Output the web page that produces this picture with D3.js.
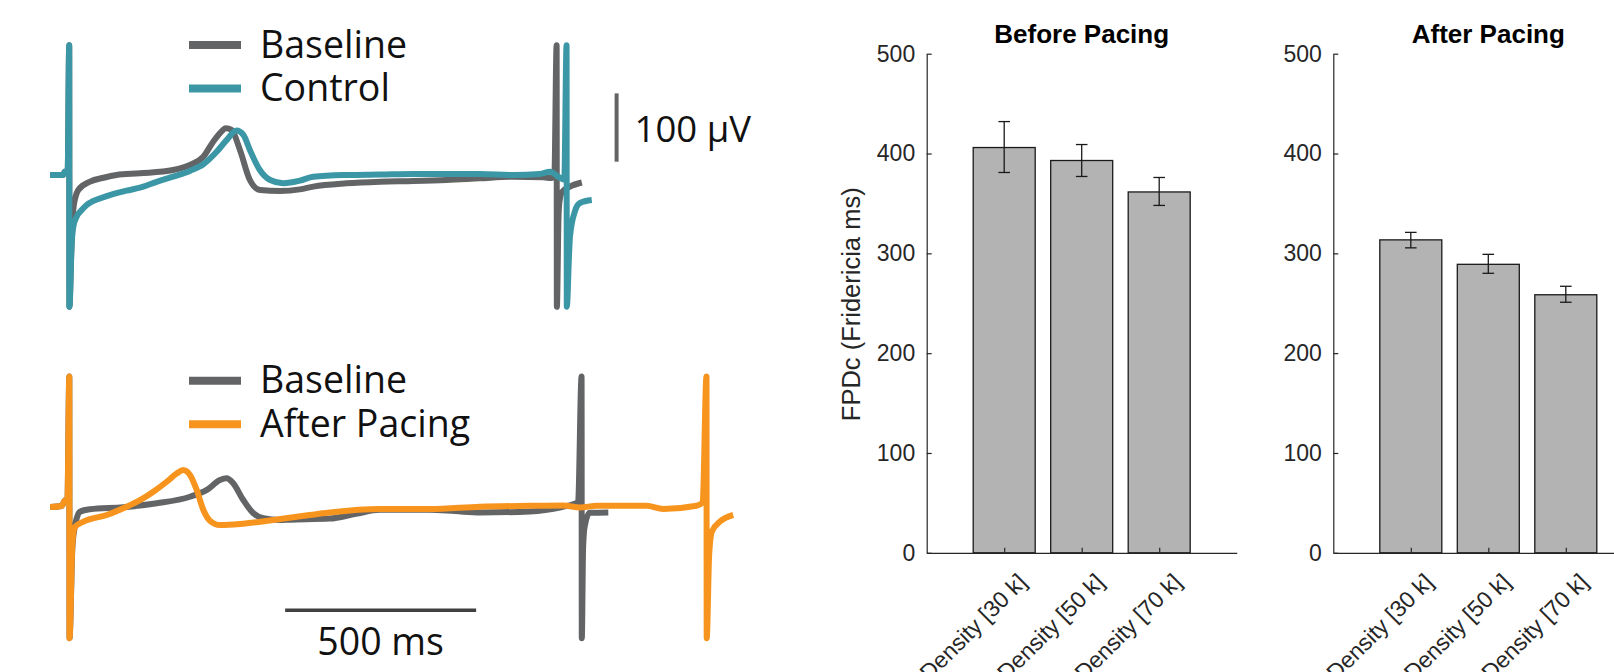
<!DOCTYPE html>
<html>
<head>
<meta charset="utf-8">
<script src="https://cdn.jsdelivr.net/npm/d3@7"></script>
<style>
  html, body { margin: 0; padding: 0; background: #ffffff; }
  svg { display: block; }
</style>
</head>
<body>
<svg id="chart" width="1614" height="672"></svg>
<script>
// ---------------- DATA ----------------
// Field potential traces: [time (ms), voltage (µV)]
const baselineTop = [[-50,0],[-16,0],[-11,5],[-4,4],[0,190],[0.6,-193],[5,-120],[10.7,-51],[16,-33],[23.8,-22],[54.5,-9.8],[90,-4],[124,0],[185,2.5],[272,7.3],[316,14.6],[351,26.8],[377,48.8],[396,62],[410,68.4],[425,66],[447,36.6],[473,-7.3],[499.5,-22],[552,-23.4],[604,-21],[639,-17],[726,-12.2],[814,-9.8],[901,-8.8],[988,-7.3],[1075,-4.8],[1163,-2.5],[1241,-3.4],[1264,-4.4],[1270,-2],[1276,190],[1276.6,-193],[1281,-60],[1283,-41],[1290,-25],[1311,-17],[1342,-11]];
const controlTop = [[-50,0],[-16,0],[-11,5],[-4,4],[0,190],[0.6,-193],[6.5,-100],[10.7,-75.6],[19.6,-61],[32.7,-51.2],[45.8,-43.9],[98,-31],[150,-23],[185,-18.6],[229,-10],[272,-2.5],[316,6],[351,15.7],[386,34],[412,51],[438,65],[456,58.6],[473,36.6],[499,7.3],[526,-7.3],[560,-12],[604,-8.3],[639,-2.5],[726,0],[814,0.7],[901,1.5],[988,1.5],[1075,1.5],[1163,0],[1232,1.5],[1259,4.8],[1280,-2.5],[1296,-7],[1302,190],[1302.6,-193],[1309,-110],[1311,-90],[1324,-53],[1337,-41],[1368,-36.6]];
const baselineBottom = [[-50,0],[-20,1.5],[-11,10],[-5,7],[0,191],[0.6,-192],[8,-60],[14,-30],[19.4,-16.5],[28,-6.9],[54,-3.4],[141,-0.4],[229,5.4],[316,15],[360,25],[394.5,39.5],[412,42],[429,34.7],[455.5,10.2],[482,-9.2],[508,-16.5],[552,-19],[578,-18.5],[682,-17],[750,-10],[813,-4],[944,-4],[1010,-6],[1075,-8],[1206,-6.5],[1290,0],[1319,4],[1332,7.3],[1341,191],[1341.6,-192],[1345,-60],[1349,-29],[1362,-8.5],[1411,-8]];
const afterPacingBottom = [[-50,0],[-20,1.5],[-11,10],[-5,7],[0,191],[0.6,-192],[8,-55],[10.5,-38.5],[15,-29],[37,-21.5],[98,-11.7],[150,0.4],[185,10],[220,22.4],[255,37],[281,49],[298,54],[316,47],[333.5,25],[351,-4.4],[368,-20],[394.5,-26.4],[447,-25],[534,-19],[600,-14],[682,-8],[813,-3],[944,-3],[1075,0.3],[1206,1.8],[1293,2.3],[1337,-0.7],[1381,1.8],[1511,1.8],[1555,-2.9],[1642,1.8],[1658,6.6],[1668,191],[1668.6,-192],[1675,-70],[1682,-36],[1703,-21.5],[1738,-11.7]];

// Scale bars (data units)
const timeBar = { start: 565, length: 500, level: -151, label: "500 ms" };
const voltBar = { at: 1433, start: 19.5, length: 100, label: "100 \u03bcV" };

// Legends
const legendTop = ["Baseline", "Control"];
const legendBottom = ["Baseline", "After Pacing"];

// Bar charts: FPDc (Fridericia ms)
const categories = ["Density [30 k]", "Density [50 k]", "Density [70 k]"];
const beforeMean = [406, 393, 361.5];
const beforeLow  = [381, 377, 348];
const beforeHigh = [432, 409, 376];
const afterMean  = [313.5, 289, 258.5];
const afterLow   = [305.5, 280, 251];
const afterHigh  = [321, 299, 267];
const yTicks = [0, 100, 200, 300, 400, 500];

// ---------------- STYLE ----------------
const GRAY = "#636466", TEAL = "#3b97a6", ORANGE = "#f7941d";
const AX = "#262626";
const svg = d3.select("#chart");

// ---------------- TRACES ----------------
function tracePanel(x0, y0, series, legend, legendY) {
  const x = d3.scaleLinear().domain([0, 500]).range([x0, x0 + 191]);
  const y = d3.scaleLinear().domain([0, 100]).range([y0, y0 - 68.3]);
  const line = d3.line().x(d => x(d[0])).y(d => y(d[1])).curve(d3.curveMonotoneX);
  const g = svg.append("g");
  series.forEach(s => {
    g.append("path").attr("d", line(s.data)).attr("fill", "none")
      .attr("stroke", s.color).attr("stroke-width", 6)
      .attr("stroke-linejoin", "round").attr("stroke-linecap", "butt");
  });
  legend.forEach((name, i) => {
    const ly = legendY + i * 43.5;
    g.append("line").attr("x1", 189).attr("x2", 241).attr("y1", ly).attr("y2", ly)
      .attr("stroke", series[i].color).attr("stroke-width", 8);
    g.append("text").attr("x", 260).attr("y", ly + 12.7).text(name)
      .attr("font-family", "'Open Sans', sans-serif").attr("font-size", 37.5).attr("fill", "#111");
  });
  return { x, y, g };
}

const topPanel = tracePanel(69.2, 175, [
  { data: baselineTop, color: GRAY },
  { data: controlTop, color: TEAL }
], legendTop, 45);

const botPanel = tracePanel(69.3, 507, [
  { data: baselineBottom, color: GRAY },
  { data: afterPacingBottom, color: ORANGE }
], legendBottom, 380.7);

// voltage scale bar (top panel)
topPanel.g.append("line")
  .attr("x1", topPanel.x(voltBar.at)).attr("x2", topPanel.x(voltBar.at))
  .attr("y1", topPanel.y(voltBar.start)).attr("y2", topPanel.y(voltBar.start + voltBar.length))
  .attr("stroke", GRAY).attr("stroke-width", 4);
topPanel.g.append("text").attr("x", topPanel.x(voltBar.at) + 18).attr("y", 141.7).text(voltBar.label)
  .attr("font-family", "'Open Sans', sans-serif").attr("font-size", 36.5).attr("fill", "#111");

// time scale bar (bottom panel)
botPanel.g.append("line")
  .attr("x1", botPanel.x(timeBar.start)).attr("x2", botPanel.x(timeBar.start + timeBar.length))
  .attr("y1", botPanel.y(timeBar.level)).attr("y2", botPanel.y(timeBar.level))
  .attr("stroke", "#414042").attr("stroke-width", 3.5);
botPanel.g.append("text")
  .attr("x", (botPanel.x(timeBar.start) + botPanel.x(timeBar.start + timeBar.length)) / 2)
  .attr("y", 655).attr("text-anchor", "middle").text(timeBar.label)
  .attr("font-family", "'Open Sans', sans-serif").attr("font-size", 37.5).attr("fill", "#111");

// ---------------- BAR PANELS ----------------
function barPanel(x0, title, mean, low, high, ylabel) {
  const y = d3.scaleLinear().domain([0, 500]).range([552.8, 53.7]);
  const x = d3.scaleLinear().domain([0, 4]).range([x0, x0 + 310]);
  const g = svg.append("g").attr("font-family", "'Liberation Sans', Arial, sans-serif");

  g.selectAll("rect.bar").data(mean).join("rect").attr("class", "bar")
    .attr("x", (d, i) => x(i + 1 - 0.4)).attr("width", x(0.8) - x(0))
    .attr("y", d => y(d)).attr("height", d => y(0) - y(d))
    .attr("fill", "#b3b3b3").attr("stroke", "#1a1a1a").attr("stroke-width", 1.3);

  const cap = 5.8;
  mean.forEach((m, i) => {
    const cx = x(i + 1);
    g.append("line").attr("x1", cx).attr("x2", cx).attr("y1", y(low[i])).attr("y2", y(high[i]))
      .attr("stroke", "#1a1a1a").attr("stroke-width", 1.3);
    [low[i], high[i]].forEach(v => {
      g.append("line").attr("x1", cx - cap).attr("x2", cx + cap).attr("y1", y(v)).attr("y2", y(v))
        .attr("stroke", "#1a1a1a").attr("stroke-width", 1.3);
    });
  });

  const ya = g.append("g").attr("transform", `translate(${x0},0)`)
    .call(d3.axisLeft(y).tickValues(yTicks).tickSizeInner(-5).tickSizeOuter(0).tickPadding(11.5));
  ya.select(".domain").attr("stroke", AX).attr("stroke-width", 1.2);
  ya.selectAll(".tick line").attr("stroke", AX).attr("stroke-width", 1.2);
  ya.selectAll(".tick text").attr("font-size", 23).attr("fill", AX)
    .attr("font-family", "'Liberation Sans', Arial, sans-serif");

  const xa = g.append("g").attr("transform", `translate(0,${y(0)})`)
    .call(d3.axisBottom(x).tickValues([1, 2, 3]).tickSizeInner(-5).tickSizeOuter(0).tickFormat(""));
  xa.select(".domain").attr("stroke", AX).attr("stroke-width", 1.2);
  xa.selectAll(".tick line").attr("stroke", AX).attr("stroke-width", 1.2);

  categories.forEach((c, i) => {
    g.append("text")
      .attr("transform", `translate(${x(i + 1) + 18},${y(0) + 25}) rotate(-45)`)
      .attr("text-anchor", "end").attr("dy", "0.35em")
      .attr("font-size", 23).attr("fill", AX).text(c);
  });

  g.append("text").attr("x", x(2)).attr("y", 42.9).attr("text-anchor", "middle")
    .attr("font-size", 26).attr("font-weight", "bold").attr("fill", "#000").text(title);

  if (ylabel) {
    g.append("text").attr("transform", `translate(${x0 - 76},${(y(0) + y(500)) / 2 + 1}) rotate(-90)`)
      .attr("text-anchor", "middle").attr("dy", "0.35em")
      .attr("font-size", 25.5).attr("fill", AX).text(ylabel);
  }
}

barPanel(926.7, "Before Pacing", beforeMean, beforeLow, beforeHigh, "FPDc (Fridericia ms)");
barPanel(1333.3, "After Pacing", afterMean, afterLow, afterHigh, null);
</script>
</body>
</html>
